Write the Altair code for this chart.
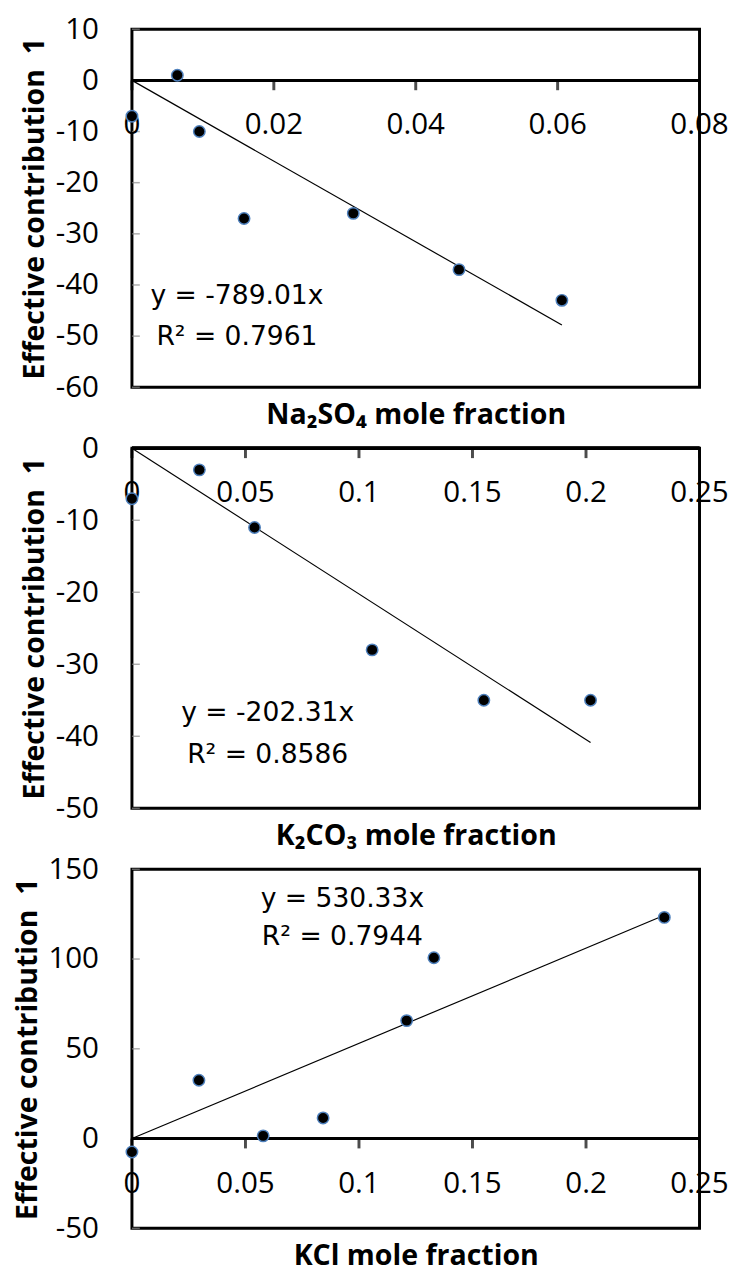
import altair as alt
import pandas as pd

# ---- data ----
na_x = [0.0, 0.0064, 0.0095, 0.0158, 0.0312, 0.0461, 0.0606]
na_y = [-7, 1, -10, -27, -26, -37, -43]
na_slope = -789.01

k2_x = [0.0, 0.0297, 0.054, 0.1058, 0.155, 0.202]
k2_y = [-7, -3, -11, -28, -35, -35]
k2_slope = -202.31

kcl_x = [0.0, 0.0295, 0.0578, 0.0842, 0.121, 0.133, 0.2345]
kcl_y = [-7.5, 32.5, 1.5, 11.5, 65.7, 100.7, 123.2]
kcl_slope = 530.33

na_xticks = [0, 0.02, 0.04, 0.06, 0.08]
na_xlabels = ["0", "0.02", "0.04", "0.06", "0.08"]
k_xticks = [0, 0.05, 0.1, 0.15, 0.2, 0.25]
k_xlabels = ["0", "0.05", "0.1", "0.15", "0.2", "0.25"]

na_yticks = [10, 0, -10, -20, -30, -40, -50, -60]
k2_yticks = [0, -10, -20, -30, -40, -50]
kcl_yticks = [150, 100, 50, 0, -50]

na_eq = ["y = -789.01x", "R² = 0.7961"]
k2_eq = ["y = -202.31x", "R² = 0.8586"]
kcl_eq = ["y = 530.33x", "R² = 0.7944"]

TICKFONT = "Open Sans"
EQFONT = "DejaVu Sans"
XTFONT = "Open Sans"
YTFONT = "Open Sans"
YTITLE = "Effective contribution\u00a0\u00a01"


def panel(xs, ys, slope, xdom, xticks, xlabels, ydom, yticks, xtitle,
          eq_lines, eq_x, eq_y, height):
    xscale = alt.Scale(domain=xdom, nice=False, zero=False)
    yscale = alt.Scale(domain=ydom, nice=False, zero=False)

    xa = alt.Axis(labels=False, ticks=False, domain=False, grid=False,
                  title=xtitle, titleFont=XTFONT, titleFontSize=29,
                  titleFontWeight="bold", titleColor="black", titlePadding=14)
    ya = alt.Axis(values=yticks, ticks=False, domain=False, grid=False,
                  labelFont=TICKFONT, labelFontSize=30, labelColor="black",
                  labelExpr="datum.value + ''",
                  labelPadding=34, title=YTITLE, titleFont=YTFONT,
                  titleFontSize=29, titleFontWeight="bold",
                  titleColor="black", titlePadding=6)

    def X(field=None, datum=None):
        if datum is not None:
            return alt.X(datum=datum, scale=xscale, axis=xa)
        return alt.X(field, type="quantitative", scale=xscale, axis=xa)

    def Y(field=None, datum=None):
        if datum is not None:
            return alt.Y(datum=datum, scale=yscale, axis=ya)
        return alt.Y(field, type="quantitative", scale=yscale, axis=ya)

    pts = pd.DataFrame({"x": xs, "y": ys})
    trend = pd.DataFrame({"x": [0.0, max(xs)]})
    trend["y"] = slope * trend["x"]
    ticks = pd.DataFrame({"x": xticks, "lab": xlabels})
    yt = pd.DataFrame({"y": yticks})
    eq = pd.DataFrame({"x": [eq_x] * 2, "y": eq_y, "txt": eq_lines})

    ytk = alt.Chart(yt).mark_tick(color="#8c8c8c", orient="horizontal",
                                  size=8, thickness=1.5, xOffset=4).encode(
        x=X(datum=xdom[0]), y=Y("y"))
    zero = alt.Chart(ticks).mark_rule(color="black", strokeWidth=3).encode(
        y=Y(datum=0))
    xt = alt.Chart(ticks).mark_tick(color="black", orient="vertical", size=10,
                                    thickness=3, yOffset=5).encode(
        x=X("x"), y=Y(datum=0))
    xl = alt.Chart(ticks).mark_text(font=TICKFONT, fontSize=30, dy=46,
                                    baseline="middle", color="black").encode(
        x=X("x"), y=Y(datum=0), text="lab:N")
    line = alt.Chart(trend).mark_line(color="black", strokeWidth=1.2).encode(
        x=X("x"), y=Y("y"))
    dots = alt.Chart(pts).mark_circle(color="black", stroke="#4f81bd",
                                      strokeWidth=1.5, size=135,
                                      opacity=1).encode(
        x=X("x"), y=Y("y"))
    txt = alt.Chart(eq).mark_text(font=EQFONT, fontSize=27,
                                  baseline="middle", color="black").encode(
        x=X("x"), y=Y("y"), text="txt:N")
    return alt.layer(ytk, zero, xt, xl, line, dots, txt).properties(
        width=577, height=height
    )


p1 = panel(na_x, na_y, na_slope, [0, 0.08], na_xticks, na_xlabels,
           [-60, 10], na_yticks, "Na₂SO₄ mole fraction",
           na_eq, 0.0148, [-42.2, -50.2], 364)
p2 = panel(k2_x, k2_y, k2_slope, [0, 0.25], k_xticks, k_xlabels,
           [-50, 0], k2_yticks, "K₂CO₃ mole fraction",
           k2_eq, 0.0598, [-36.8, -42.6], 366)
p3 = panel(kcl_x, kcl_y, kcl_slope, [0, 0.25], k_xticks, k_xlabels,
           [-50, 150], kcl_yticks, "KCl mole fraction",
           kcl_eq, 0.0927, [133.4, 112], 365)

chart = alt.vconcat(p1, p2, p3, spacing=62, bounds="flush").properties(
    padding={"left": 4, "top": -6, "right": 0, "bottom": 0}
).configure(background="white").configure_view(
    stroke="black", strokeWidth=3
)

chart.save("out.html", embed_options={"renderer": "svg", "actions": False})
